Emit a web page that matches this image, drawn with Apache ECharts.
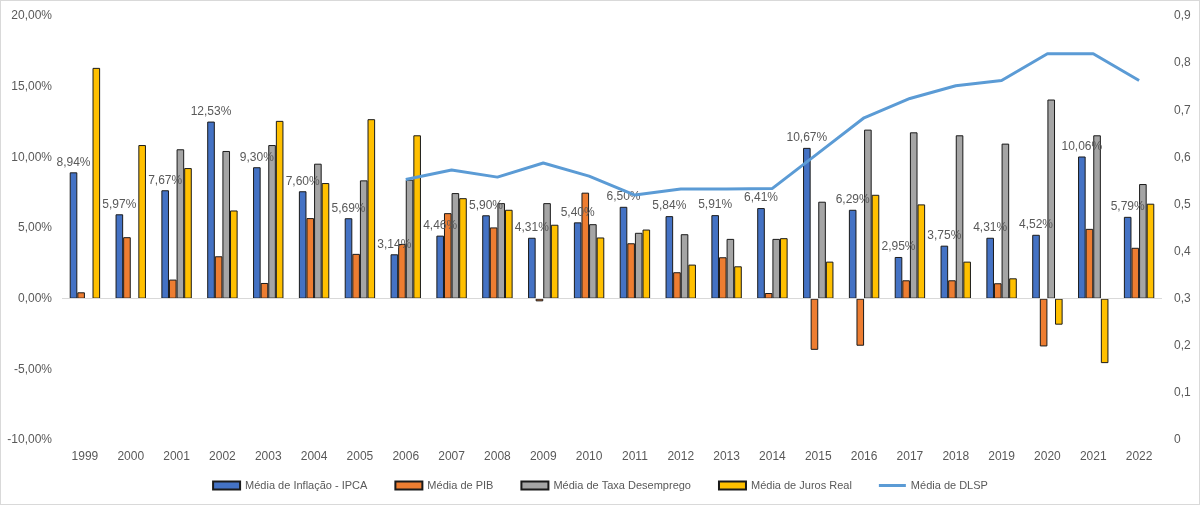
<!DOCTYPE html>
<html>
<head>
<meta charset="utf-8">
<script src="https://cdn.jsdelivr.net/npm/echarts@6/dist/echarts.min.js"></script>
<style>
  html, body { margin: 0; padding: 0; background: #fff; }
  #chart { width: 1198px; height: 503px; border: 1px solid #d9d9d9; }
</style>
</head>
<body>
<div id="chart"></div>
<script>
// anos
const years = ['1999','2000','2001','2002','2003','2004','2005','2006','2007','2008','2009','2010',
  '2011','2012','2013','2014','2015','2016','2017','2018','2019','2020','2021','2022'];

// médias (%)
const ipca = [8.94, 5.97, 7.67, 12.53, 9.30, 7.60, 5.69, 3.14, 4.46, 5.90, 4.31, 5.40,
  6.50, 5.84, 5.91, 6.41, 10.67, 6.29, 2.95, 3.75, 4.31, 4.52, 10.06, 5.79];
const pib = [0.45, 4.35, 1.35, 3.0, 1.11, 5.70, 3.17, 3.87, 6.05, 5.04, -0.19, 7.50,
  3.92, 1.87, 2.93, 0.40, -3.62, -3.33, 1.30, 1.30, 1.09, -3.38, 4.94, 3.60];
const desemprego = [null, null, 10.57, 10.45, 10.87, 9.55, 8.37, 8.42, 7.47, 6.76, 6.76, 5.27,
  4.66, 4.56, 4.23, 4.23, 6.86, 11.96, 11.77, 11.56, 10.97, 14.09, 11.56, 8.11];
const juros = [16.33, 10.87, 9.24, 6.24, 12.58, 8.18, 12.70, 11.56, 7.11, 6.29, 5.23, 4.33,
  4.89, 2.41, 2.29, 4.28, 2.62, 7.35, 6.67, 2.62, 1.44, -1.84, -4.56, 6.72];
// DLSP (eixo secundário)
const dlsp = [null, null, null, null, null, null, null, 0.553, 0.573, 0.558, 0.588, 0.560,
  0.520, 0.533, 0.533, 0.534, 0.609, 0.684, 0.725, 0.752, 0.763, 0.820, 0.820, 0.763];

const FONT = '"Liberation Sans", Arial, sans-serif';
const TXT = '#595959';
const fmtPct = v => v.toFixed(2).replace('.', ',') + '%';

function barSeries(name, data, color, extra) {
  return Object.assign({
    name: name,
    type: 'bar',
    data: data,
    barWidth: 7.6,
    barGap: '0%',
    itemStyle: { color: color, borderColor: '#1a1a1a', borderWidth: 1 }
  }, extra || {});
}

const chart = echarts.init(document.getElementById('chart'));
chart.setOption({
  animation: false,
  backgroundColor: '#fff',
  textStyle: { fontFamily: FONT },
  grid: { left: 61, right: 37, top: 15, bottom: 64 },
  legend: {
    bottom: 8,
    left: 'center',
    icon: 'rect',
    itemWidth: 27,
    itemHeight: 8,
    itemGap: 27,
    textStyle: { color: TXT, fontSize: 11, fontFamily: FONT },
    data: [
      'Média de Inflação - IPCA', 'Média de PIB', 'Média de Taxa Desemprego', 'Média de Juros Real',
      { name: 'Média de DLSP', icon: 'path://M0,0H27V3H0Z' }
    ]
  },
  xAxis: {
    type: 'category',
    data: years,
    axisLine: { show: false, onZero: false },
    axisTick: { show: false },
    axisLabel: { color: TXT, fontSize: 12, margin: 11 }
  },
  yAxis: [
    {
      type: 'value',
      min: -10, max: 20, interval: 5,
      splitLine: { show: false },
      axisLabel: { color: TXT, fontSize: 12, margin: 10, formatter: fmtPct }
    },
    {
      type: 'value',
      min: 0, max: 0.9, interval: 0.1,
      splitLine: { show: false },
      axisLabel: {
        color: TXT, fontSize: 12, margin: 12,
        formatter: v => v === 0 ? '0' : v.toFixed(1).replace('.', ',')
      }
    }
  ],
  series: [
    barSeries('Média de Inflação - IPCA', ipca, '#4472C4', {
      label: {
        show: true, position: 'top', distance: 4,
        color: TXT, fontSize: 12, fontFamily: FONT,
        formatter: p => fmtPct(p.value)
      },
      markLine: {
        silent: true, symbol: 'none',
        label: { show: false },
        lineStyle: { color: '#d9d9d9', type: 'solid', width: 1 },
        data: [{ yAxis: 0 }]
      }
    }),
    barSeries('Média de PIB', pib, '#ED7D31'),
    barSeries('Média de Taxa Desemprego', desemprego, '#A5A5A5'),
    barSeries('Média de Juros Real', juros, '#FFC000'),
    {
      name: 'Média de DLSP',
      type: 'line',
      yAxisIndex: 1,
      data: dlsp,
      symbol: 'none',
      z: 5,
      lineStyle: { color: '#5B9BD5', width: 3 },
      itemStyle: { color: '#5B9BD5' }
    }
  ]
});
</script>
</body>
</html>
